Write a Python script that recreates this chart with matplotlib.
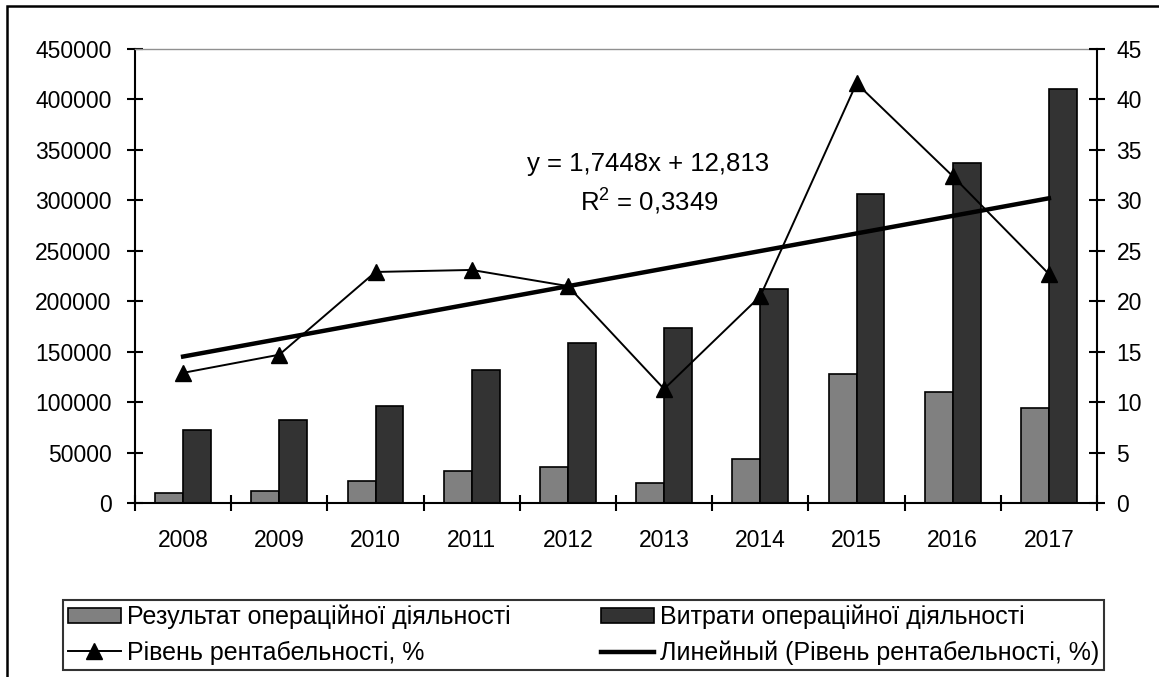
import matplotlib
matplotlib.use("Agg")
import matplotlib.pyplot as plt
import numpy as np
from matplotlib.patches import Rectangle

plt.rcParams["font.family"] = ["Liberation Sans", "DejaVu Sans"]
plt.rcParams["mathtext.fontset"] = "custom"
plt.rcParams["mathtext.rm"] = "Liberation Sans"

years = ["2008", "2009", "2010", "2011", "2012", "2013", "2014", "2015", "2016", "2017"]
result_ops = [9500, 11500, 21500, 32000, 35500, 20000, 43500, 128000, 110000, 94500]
costs_ops = [72500, 82500, 96500, 131500, 159000, 173000, 212000, 306000, 337500, 410000]
profitability = [12.9, 14.7, 22.9, 23.1, 21.5, 11.3, 20.5, 41.6, 32.4, 22.7]

label_result = "Результат операційної діяльності"
label_costs = "Витрати операційної діяльності"
label_profit = "Рівень рентабельності, %"
label_trend = "Линейный (Рівень рентабельності, %)"
eq_text = "y = 1,7448x + 12,813"
r2_text = "R$^2$ = 0,3349"

FS = 16.5

fig = plt.figure(figsize=(11.59, 6.77), dpi=100, facecolor="white")
ax = fig.add_axes([135 / 1159, 1 - 503 / 677, (1097 - 135) / 1159, (503 - 49) / 677])
ax2 = ax.twinx()

x = np.arange(len(years))
w = 0.29
b1 = ax.bar(x - w / 2, result_ops, width=w, color="#808080", edgecolor="black", linewidth=1.2, label=label_result)
b2 = ax.bar(x + w / 2, costs_ops, width=w, color="#333333", edgecolor="black", linewidth=1.2, label=label_costs)

(l1,) = ax2.plot(x, profitability, color="black", lw=1.4, marker="^", markersize=11, label=label_profit)
coef = np.polyfit(x + 1, profitability, 1)
trend = np.polyval(coef, x + 1)
(l2,) = ax2.plot(x, trend, color="black", lw=3.2, label=label_trend)

ax.set_xlim(-0.5, len(years) - 0.5)
ax.set_ylim(0, 450000)
ax.set_yticks(np.arange(0, 450001, 50000))
ax2.set_ylim(0, 45)
ax2.set_yticks(np.arange(0, 46, 5))

ax.set_xticks(np.arange(-0.5, len(years), 1.0))
ax.set_xticklabels([])
ax.set_xticks(x, minor=True)
ax.set_xticklabels(years, minor=True)
ax.tick_params(axis="x", which="major", direction="inout", length=12, width=1.5)
ax.tick_params(axis="x", which="minor", length=0, pad=19, labelsize=FS)
ax.tick_params(axis="y", direction="inout", length=12, width=1.5, pad=11, labelsize=FS)
ax2.tick_params(axis="y", direction="inout", length=12, width=1.5, pad=8, labelsize=FS)

for a in (ax, ax2):
    a.spines["right"].set_visible(False)
    a.spines["top"].set_visible(False)
ax.spines["left"].set_linewidth(1.5)
ax.spines["bottom"].set_linewidth(1.5)
ax2.spines["left"].set_visible(False)
ax2.spines["bottom"].set_visible(False)
ax2.spines["right"].set_visible(True)
ax2.spines["right"].set_linewidth(1.5)
ax.spines["top"].set_visible(True)
ax.spines["top"].set_color("#909090")
ax.spines["top"].set_linewidth(1.0)

ax.text(0.533, 0.747, eq_text, transform=ax.transAxes, ha="center", va="center", fontsize=18.5)
ax.text(0.535, 0.667, r2_text, transform=ax.transAxes, ha="center", va="center", fontsize=18.5)

leg = fig.legend(
    [b1, l1, b2, l2],
    [label_result, label_profit, label_costs, label_trend],
    ncol=2,
    loc="lower left",
    bbox_to_anchor=(63 / 1159, 1 - 670 / 677, (1104 - 63) / 1159, (670 - 586) / 677),
    mode="expand",
    fontsize=18,
    frameon=True,
    fancybox=False,
    borderaxespad=0,
    handlelength=2.1,
    handleheight=0.55,
    handletextpad=0.25,
    labelspacing=0.45,
    borderpad=0.2,
)
leg.get_frame().set_edgecolor("black")
leg.get_frame().set_linewidth(1.5)

fig.patches.append(
    Rectangle((7 / 1159, -0.05), 1.1, 1.05 - 6 / 677, transform=fig.transFigure,
              fill=False, edgecolor="black", linewidth=1.8, clip_on=False)
)

fig.savefig("out.png", dpi=100, facecolor="white")
